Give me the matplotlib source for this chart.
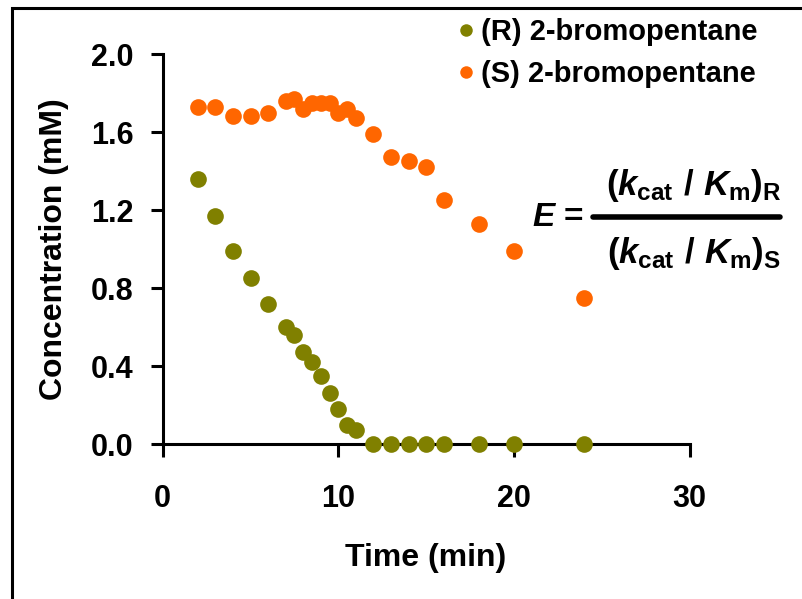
import matplotlib
matplotlib.use('Agg')
import matplotlib.pyplot as plt
from matplotlib.lines import Line2D
from matplotlib.patches import Rectangle

plt.rcParams['font.family'] = ['Liberation Sans', 'DejaVu Sans']
plt.rcParams['font.weight'] = 'bold'
plt.rcParams['mathtext.fontset'] = 'custom'
plt.rcParams['mathtext.rm'] = 'Liberation Sans:bold'
plt.rcParams['mathtext.it'] = 'Liberation Sans:bold:italic'
plt.rcParams['mathtext.bf'] = 'Liberation Sans:bold'

# Daten (Zeit in min, Konzentration in mM)
time = [2, 3, 4, 5, 6, 7, 7.5, 8, 8.5, 9, 9.5, 10, 10.5, 11, 12, 13, 14, 15, 16, 18, 20, 24]
conc_R = [1.36, 1.17, 0.99, 0.85, 0.72, 0.60, 0.56, 0.47, 0.42, 0.35, 0.26, 0.18, 0.10, 0.07,
          0.0, 0.0, 0.0, 0.0, 0.0, 0.0, 0.0, 0.0]
conc_S = [1.73, 1.73, 1.68, 1.68, 1.70, 1.76, 1.77, 1.72, 1.75, 1.75, 1.75, 1.70, 1.72, 1.67,
          1.59, 1.47, 1.45, 1.42, 1.25, 1.13, 0.99, 0.75]
labels = ['(R) 2-bromopentane', '(S) 2-bromopentane']
colors = ['#808000', '#FF6600']
xticks = [0, 10, 20, 30]
yticks = [0.0, 0.4, 0.8, 1.2, 1.6, 2.0]

W, H = 802, 599
fig = plt.figure(figsize=(W / 100, H / 100), dpi=100)
ax = fig.add_axes([162.7 / W, 1 - 444 / H, (689.5 - 162.7) / W, (444 - 54) / H])

ax.plot(time, conc_R, 'o', color=colors[0], ms=12, mec='none', label=labels[0], clip_on=False, zorder=3)
ax.plot(time, conc_S, 'o', color=colors[1], ms=12, mec='none', label=labels[1], clip_on=False, zorder=3)

ax.set_xlim(0, 30)
ax.set_ylim(0, 2.0)
ax.set_xticks(xticks)
ax.set_yticks(yticks)
ax.set_yticklabels(['%.1f' % v for v in yticks])
ax.spines['top'].set_visible(False)
ax.spines['right'].set_visible(False)
for s in ['left', 'bottom']:
    ax.spines[s].set_linewidth(2.2)
ax.tick_params(axis='both', width=2.2, length=9, labelsize=22, direction='out')
ax.tick_params(axis='x', pad=20)
ax.tick_params(axis='y', pad=12)

ax.set_xlabel('Time (min)', fontsize=23, fontweight='bold', labelpad=21)
ax.set_ylabel('Concentration (mM)', fontsize=23, fontweight='bold', labelpad=16)

ax.legend(loc='center left', bbox_to_anchor=(440 / W, 1 - 53 / H), bbox_transform=fig.transFigure,
          frameon=False, fontsize=21, handletextpad=0.1, labelspacing=0.48, borderpad=0,
          handlelength=0.8, markerscale=0.75)

# Gleichung
fig.text(558 / W, 1 - 217 / H, r'$E$ =', fontsize=24, ha='center', va='center')
fig.text(694 / W, 1 - 186 / H, r'$(k_{\mathrm{cat}}\ /\ K_{\mathrm{m}})_{\mathrm{R}}$',
         fontsize=25, ha='center', va='center')
fig.text(694 / W, 1 - 253 / H, r'$(k_{\mathrm{cat}}\ /\ K_{\mathrm{m}})_{\mathrm{S}}$',
         fontsize=25, ha='center', va='center')
fig.add_artist(Line2D([593 / W, 780 / W], [1 - 217 / H, 1 - 217 / H], color='black', lw=4,
                      solid_capstyle='round', transform=fig.transFigure))

# Rahmen
fig.add_artist(Rectangle((12 / W, -0.1), 1.1, 1 - 8 / H + 0.1, fill=False, ec='black', lw=2.2,
                         transform=fig.transFigure))

fig.savefig('out.png', dpi=100)
